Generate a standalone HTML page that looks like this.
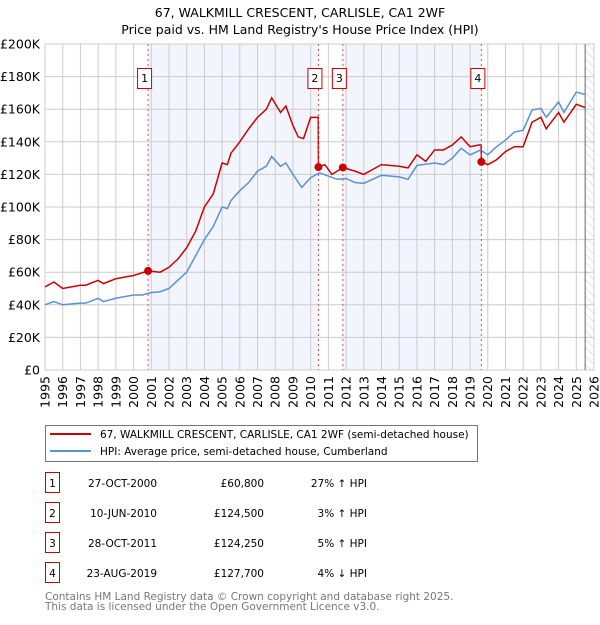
<!DOCTYPE html>
<html><head><meta charset="utf-8"><style>
body{margin:0;background:#fff;font-family:"Liberation Sans","DejaVu Sans",sans-serif;}
svg text{font-family:"DejaVu Sans","Liberation Sans",sans-serif;}
</style></head><body>
<svg id="chart" width="600" height="620" xmlns="http://www.w3.org/2000/svg">
<defs><pattern id="hatch" width="6" height="6" patternUnits="userSpaceOnUse" patternTransform="rotate(-45)"><line x1="0" y1="0" x2="0" y2="6" stroke="#ccc" stroke-width="1"/></pattern></defs>
<text x="300" y="17" text-anchor="middle" font-size="12.5">67, WALKMILL CRESCENT, CARLISLE, CA1 2WF</text>
<text x="300" y="34" text-anchor="middle" font-size="12.5">Price paid vs. HM Land Registry's House Price Index (HPI)</text>
<g id="shade"></g><g id="grid"></g><g id="ticks"></g><g id="lines"></g><g id="marks"></g>
<rect x="45.5" y="425.5" width="432" height="36" fill="#fff" stroke="#777"/>
<line x1="50" y1="434" x2="91" y2="434" stroke="#cc0000" stroke-width="2"/>
<text x="100" y="438" font-size="10.5">67, WALKMILL CRESCENT, CARLISLE, CA1 2WF (semi-detached house)</text>
<line x1="50" y1="451" x2="91" y2="451" stroke="#5b8fd6" stroke-width="2"/>
<text x="100" y="455" font-size="10.5">HPI: Average price, semi-detached house, Cumberland</text>
<g id="table" font-size="10.5"></g>
<text x="45" y="600" font-size="10.5" fill="#777">Contains HM Land Registry data © Crown copyright and database right 2025.</text>
<text x="45" y="610" font-size="10.5" fill="#777">This data is licensed under the Open Government Licence v3.0.</text>
</svg>
<script>
const yTicks=[0,20000,40000,60000,80000,100000,120000,140000,160000,180000,200000];
const yTickLabels=["£0","£20K","£40K","£60K","£80K","£100K","£120K","£140K","£160K","£180K","£200K"];
const xYears=[1995,1996,1997,1998,1999,2000,2001,2002,2003,2004,2005,2006,2007,2008,2009,2010,2011,2012,2013,2014,2015,2016,2017,2018,2019,2020,2021,2022,2023,2024,2025,2026];
const hpiT=[1995,1995.5,1996,1997,1997.3,1998,1998.3,1999,2000,2000.5,2001,2001.5,2002,2002.5,2003,2003.5,2004,2004.5,2005,2005.3,2005.5,2006,2006.5,2007,2007.5,2007.8,2008.3,2008.6,2009,2009.5,2010,2010.5,2011,2011.5,2012,2012.5,2013,2013.5,2014,2015,2015.5,2016,2017,2017.5,2018,2018.5,2019,2019.6,2020,2020.5,2021,2021.5,2022,2022.5,2023,2023.3,2024,2024.3,2025,2025.5];
const hpiV=[40000,42000,40000,41000,41000,44000,42000,44000,46000,46000,47500,48000,50000,55000,60000,70000,80000,88000,100000,99000,104000,110000,115000,122000,125000,131000,125000,127000,120000,112000,118000,121000,119000,117000,117500,115000,114500,117000,119500,118500,117000,125500,127000,126000,130000,136000,132000,135000,132000,137000,141000,146000,147000,159500,160500,155000,164500,158000,170500,169000];
const ppT=[1995,1995.5,1996,1997,1997.3,1998,1998.3,1999,2000,2000.82,2001.5,2002,2002.5,2003,2003.5,2004,2004.5,2005,2005.3,2005.5,2006,2006.5,2007,2007.5,2007.8,2008.3,2008.6,2009,2009.3,2009.6,2010,2010.43,2010.44,2010.8,2011.2,2011.5,2011.82,2012.5,2013,2013.5,2014,2015,2015.5,2016,2016.5,2017,2017.5,2018,2018.5,2019,2019.5,2019.63,2019.64,2020,2020.5,2021,2021.5,2022,2022.5,2023,2023.3,2024,2024.3,2025,2025.5];
const ppV=[51000,54000,50000,52000,52000,55000,53000,56000,58000,60800,60000,63000,68000,75000,85000,100000,108000,127000,126000,133000,140000,148000,155000,160000,167000,158000,162000,150000,143000,142000,155000,155000,124500,126000,120000,122000,124250,122000,120000,123000,126000,125000,124000,132000,128000,135000,135000,138000,143000,137000,138000,138000,127700,126000,129000,134000,137000,137000,152000,155000,148000,158000,152000,163000,161000];
const saleT=[2000.82,2010.44,2011.82,2019.64];
const saleV=[60800,124500,124250,127700];
const saleLabels=["1","2","3","4"];
const saleDates=["27-OCT-2000","10-JUN-2010","28-OCT-2011","23-AUG-2019"];
const salePrices=["£60,800","£124,500","£124,250","£127,700"];
const saleHpi=["27% ↑ HPI","3% ↑ HPI","5% ↑ HPI","4% ↓ HPI"];
const NS="http://www.w3.org/2000/svg";
const X0=45,X1=594,Y0=370,Y1=44;
const x=t=>X0+(t-1995)/(2026-1995)*(X1-X0);
const y=v=>Y0-v/200000*(Y0-Y1);
function mk(tag,at,parent){const e=document.createElementNS(NS,tag);for(const k in at)e.setAttribute(k,at[k]);document.getElementById(parent).appendChild(e);return e;}
for(let i=0;i<saleT.length-1;i+=2){const r=mk('rect',{x:x(saleT[i]),y:Y1,width:x(saleT[i+1])-x(saleT[i]),height:Y0-Y1,fill:'#eef2fc',opacity:0.75},'shade');

}
const hz=mk('rect',{x:x(2025.5),y:Y1,width:X1-x(2025.5),height:Y0-Y1,fill:'url(#hatch)'},'shade');


yTicks.forEach((v,i)=>{mk('line',{x1:X0,x2:X1,y1:y(v),y2:y(v),stroke:'#ccc'},'grid');
const t=mk('text',{x:40,y:y(v)+4.5,'text-anchor':'end','font-size':12.5},'ticks');t.textContent=yTickLabels[i];

});
xYears.forEach(yr=>{mk('line',{x1:x(yr),x2:x(yr),y1:Y1,y2:Y0,stroke:'#ccc'},'grid');
const t=mk('text',{x:0,y:0,'text-anchor':'end','font-size':12.5,transform:`translate(${x(yr)+4.5},376) rotate(-90)`},'ticks');t.textContent=yr;

});
mk('line',{x1:x(2025.5),x2:x(2025.5),y1:Y1,y2:Y0,stroke:'#666'},'grid');
const hp=mk('polyline',{points:hpiT.map((t,i)=>x(t)+','+y(hpiV[i])).join(' '),fill:'none',stroke:'#5b8fd6','stroke-width':1.5},'lines');


const pp=mk('polyline',{points:ppT.map((t,i)=>x(t)+','+y(ppV[i])).join(' '),fill:'none',stroke:'#cc0000','stroke-width':1.5},'lines');


saleT.forEach((t,i)=>{
const l=mk('line',{x1:x(t),x2:x(t),y1:Y1,y2:Y0,stroke:'#e05050','stroke-dasharray':'2,3'},'marks');


const c=mk('circle',{cx:x(t),cy:y(saleV[i]),r:4,fill:'#cc0000'},'marks');


const b=mk('rect',{x:x(t)-10.5,y:68.5,width:14,height:20,fill:'#fff',stroke:'#cc0000'},'marks');


const bt=mk('text',{x:x(t)-3.5,y:82,'text-anchor':'middle','font-size':11},'marks');bt.textContent=saleLabels[i];
const ty=483+30*i;
const tb=mk('rect',{x:45.5,y:ty-10.5,width:14,height:20,fill:'#fff',stroke:'#cc0000'},'table');


const cols=[[52.5,'middle',saleLabels[i]],[157,'end',saleDates[i]],[264,'end',salePrices[i]],[367,'end',saleHpi[i]]];
cols.forEach(([cx,a,s])=>{const tt=mk('text',{x:cx,y:ty+4,'text-anchor':a},'table');tt.textContent=s;

});
});
</script>
</body></html>
